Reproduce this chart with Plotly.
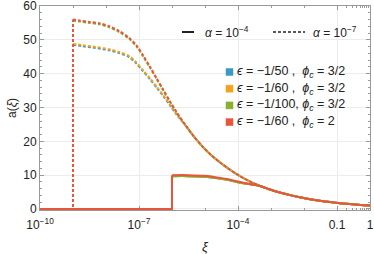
import plotly.graph_objects as go

# ---- data (log10 xi, a) ----
# shared part where all alpha=1e-7 curves coincide
merged_lx = [-5.36, -5.06, -4.8, -4.55, -4.3, -4.04, -3.79, -3.55]
merged_a  = [21.7, 18.3, 15.8, 13.8, 12.0, 10.3, 8.9, 7.7]
# shared tail of all curves
tail_lx = [-3.33, -3.03, -2.73, -2.42, -2.12, -1.82, -1.52, -1.21, -0.91, -0.6, -0.3, 0.0]
tail_a  = [6.8, 5.75, 4.85, 4.1, 3.45, 2.9, 2.45, 2.05, 1.72, 1.45, 1.2, 1.0]

# alpha = 1e-7 (dashed): step at xi = 1e-9
dash_step_lx = [-10, -9.0, -9.0]
dash_hi_lx = [-9.0, -8.8, -8.5, -8.2, -7.9, -7.6, -7.3, -7.07, -6.87, -6.67, -6.47, -6.27, -6.06, -5.86, -5.55]
dash_red_a = [56.0, 55.7, 55.3, 54.9, 54.0, 52.6, 50.6, 48.3, 45.3, 42.1, 38.7, 35.3, 31.8, 28.6, 24.2]
dash_green_a = [55.7, 55.4, 55.0, 54.6, 53.7, 52.3, 50.3, 48.0, 45.0, 41.8, 38.5, 35.1, 31.6, 28.5, 24.2]
dash_lo_lx = [-9.0, -8.7, -8.4, -7.9, -7.6, -7.3, -7.1, -6.9, -6.68, -6.46, -6.26, -6.06, -5.86, -5.55]
dash_blue_a = [48.5, 48.1, 47.7, 46.9, 46.1, 44.9, 43.2, 41.0, 38.5, 35.8, 33.3, 30.6, 27.9, 24.2]
dash_orange_a = [48.8, 48.4, 48.0, 47.2, 46.4, 45.2, 43.5, 41.3, 38.8, 36.1, 33.5, 30.8, 28.0, 24.2]

# alpha = 1e-4 (solid): step at xi = 1e-6
solid_step_lx = [-10, -6.0, -6.0]
solid_lx = [-6.0, -5.5, -5.0, -4.55, -4.3, -4.04, -3.79, -3.55]
solid_red_a = [10.0, 10.0, 9.8, 9.2, 8.8, 8.2, 7.7, 7.25]
solid_oth_a = [9.7, 9.7, 9.5, 9.0, 8.6, 8.0, 7.55, 7.15]

colors = {"blue": "#3d98c5", "orange": "#f7a11a", "green": "#8aae2f", "red": "#e8553a"}

legend_labels = [
    ("blue", "<i>ϵ</i> = −1/50 ,  <i>ϕ<sub>c</sub></i> = 3/2"),
    ("orange", "<i>ϵ</i> = −1/60 ,  <i>ϕ<sub>c</sub></i> = 3/2"),
    ("green", "<i>ϵ</i> = −1/100, <i>ϕ<sub>c</sub></i> = 3/2"),
    ("red", "<i>ϵ</i> = −1/60 ,  <i>ϕ<sub>c</sub></i> = 2"),
]

x_tickvals = [1e-10, 1e-7, 1e-4, 0.1, 1]
x_ticktext = ["10<sup>−10</sup>", "10<sup>−7</sup>", "10<sup>−4</sup>", "0.1", "1"]
x_minor = [1e-9, 1e-8, 1e-6, 1e-5, 1e-3, 1e-2, 0.2, 0.3, 0.4, 0.5, 0.6, 0.7, 0.8, 0.9]
y_tickvals = [0, 10, 20, 30, 40, 50, 60]


def xs(lx):
    return [10.0 ** v for v in lx]


fig = go.Figure()

series = [
    ("blue", dash_lo_lx, dash_blue_a, solid_oth_a),
    ("orange", dash_lo_lx, dash_orange_a, solid_oth_a),
    ("green", dash_hi_lx, dash_green_a, solid_oth_a),
    ("red", dash_hi_lx, dash_red_a, solid_red_a),
]

LW = 2.0
DASH = "3px,2px"
for name, lx, a, sa in series:
    fig.add_trace(go.Scatter(x=xs(dash_step_lx), y=[0, 0, a[0]], mode="lines",
                             line=dict(color=colors[name], width=LW, dash=DASH),
                             showlegend=False, hoverinfo="skip"))
    fig.add_trace(go.Scatter(x=xs(lx + merged_lx + tail_lx), y=a + merged_a + tail_a, mode="lines",
                             line=dict(color=colors[name], width=LW, dash=DASH, shape="spline", smoothing=0.8),
                             showlegend=False, hoverinfo="skip"))
for name, lx, a, sa in series:
    fig.add_trace(go.Scatter(x=xs(solid_step_lx), y=[0, 0, sa[0]], mode="lines",
                             line=dict(color=colors[name], width=LW),
                             showlegend=False, hoverinfo="skip"))
    fig.add_trace(go.Scatter(x=xs(solid_lx + tail_lx), y=sa + tail_a, mode="lines",
                             line=dict(color=colors[name], width=LW, shape="spline", smoothing=0.8),
                             showlegend=False, hoverinfo="skip"))

font = dict(family="Liberation Sans, Arial, sans-serif", size=12, color="#222")

fig.update_layout(
    width=374, height=254,
    margin=dict(l=40, r=4, t=6, b=44),
    paper_bgcolor="white", plot_bgcolor="white",
    font=font,
    xaxis=dict(type="log", range=[-10, 0], tickvals=x_tickvals, ticktext=x_ticktext,
               automargin=False, ticklabeloverflow="allow", ticklabelstandoff=4,
               layer="below traces",
               showgrid=True, gridcolor="#ececec", gridwidth=1,
               showline=True, linecolor="#999", linewidth=1, mirror="ticks",
               ticks="inside", ticklen=4, tickcolor="#999",
               minor=dict(tickvals=x_minor, ticks="inside", ticklen=2, tickcolor="#999", showgrid=False),
               zeroline=False, tickfont=dict(size=12, color="#222"),
               title=dict(text="<i>ξ</i>", font=dict(size=13), standoff=14)),
    yaxis=dict(range=[-0.3, 60], tickvals=y_tickvals,
               automargin=False, ticklabeloverflow="allow",
               layer="below traces",
               showgrid=True, gridcolor="#ececec", gridwidth=1,
               showline=True, linecolor="#999", linewidth=1, mirror="ticks",
               ticks="inside", ticklen=4, tickcolor="#999",
               minor=dict(dtick=2, ticks="inside", ticklen=2, tickcolor="#999", showgrid=False),
               zeroline=False, tickfont=dict(size=12, color="#222"),
               title=dict(text="a(<i>ξ</i>)", font=dict(size=12), standoff=4)),
)

yr = (210 - 32) / 204
fig.add_shape(type="line", xref="paper", yref="paper", x0=(182 - 40) / 330, x1=(194 - 40) / 330,
              y0=yr, y1=yr, line=dict(color="#222", width=2))
fig.add_annotation(xref="paper", yref="paper", x=(203 - 40) / 330, y=yr,
                   text="<i>α</i> = 10<sup>−4</sup>", showarrow=False, xanchor="left", yanchor="middle",
                   font=dict(size=12, color="#222"))
fig.add_shape(type="line", xref="paper", yref="paper", x0=(273 - 40) / 330, x1=(305 - 40) / 330,
              y0=yr, y1=yr, line=dict(color="#222", width=1.6, dash="3px,2px"))
fig.add_annotation(xref="paper", yref="paper", x=(311 - 40) / 330, y=yr,
                   text="<i>α</i> = 10<sup>−7</sup>", showarrow=False, xanchor="left", yanchor="middle",
                   font=dict(size=12, color="#222"))

for i, (name, label) in enumerate(legend_labels):
    yc = 72 + i * 16.7
    fig.add_shape(type="rect", xref="paper", yref="paper",
                  x0=(226 - 40) / 330, x1=(233 - 40) / 330,
                  y0=(210 - yc - 3.5) / 204, y1=(210 - yc + 3.5) / 204,
                  fillcolor=colors[name], line=dict(color=colors[name], width=0.5))
    fig.add_annotation(xref="paper", yref="paper", x=(235 - 40) / 330, y=(210 - yc) / 204,
                       text=label, showarrow=False, xanchor="left", yanchor="middle",
                       font=dict(size=12.5, color="#222"))

fig.write_html("out.html", config={"displayModeBar": False},
               post_script="document.body.style.margin='0';document.body.style.overflow='hidden';")
